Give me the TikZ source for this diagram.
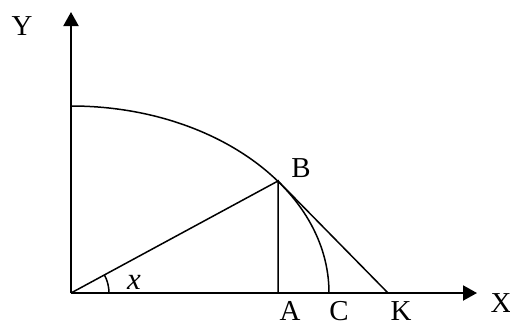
\documentclass[tikz,border=0pt]{standalone}
\usepackage{fontspec}
\setmainfont{Liberation Serif}
\usetikzlibrary{arrows.meta,calc}
\begin{document}
\begin{tikzpicture}[x=1bp,y=1bp,
  axis/.style={line width=2bp,-{Triangle[length=14bp,width=15bp]}},
  geo/.style={line width=1.5bp},
  lbl/.style={inner sep=0pt,anchor=base,text depth=0pt,font=\fontsize{29}{33}\selectfont}]
\useasboundingbox (0,0) rectangle (510,327);
\coordinate (O) at (71,34);
\coordinate (Ytip) at (71,315);
\coordinate (Xtip) at (477,34);
\coordinate (E) at (71,221);
\coordinate (B) at (278,146);
\coordinate (A) at (278,34);
\coordinate (C) at (329,34);
\coordinate (K) at (388,34);
\draw[axis] (O) -- (Ytip);
\draw[axis] (O) -- (Xtip);
\draw[geo] (E) arc[start angle=90,end angle=0,x radius=258,y radius=187];
\draw[geo] (O) -- (B) -- (A);
\draw[geo] (B) -- (K);
\draw[geo] ($(O)+(38,0)$) arc[start angle=0,end angle=28.4,radius=38];
\node[lbl] (lY) at (22,292) {Y};
\node[lbl] (lX) at (501,15) {X};
\node[lbl] (lB) at (301,150) {B};
\node[lbl] (lA) at (290,7) {A};
\node[lbl] (lC) at (339,7) {C};
\node[lbl] (lK) at (401,7) {K};
\node[inner sep=0pt,anchor=base,text depth=0pt,font=\fontsize{31}{35}\selectfont\itshape] (lx) at (134,38) {x};
\end{tikzpicture}
\end{document}
